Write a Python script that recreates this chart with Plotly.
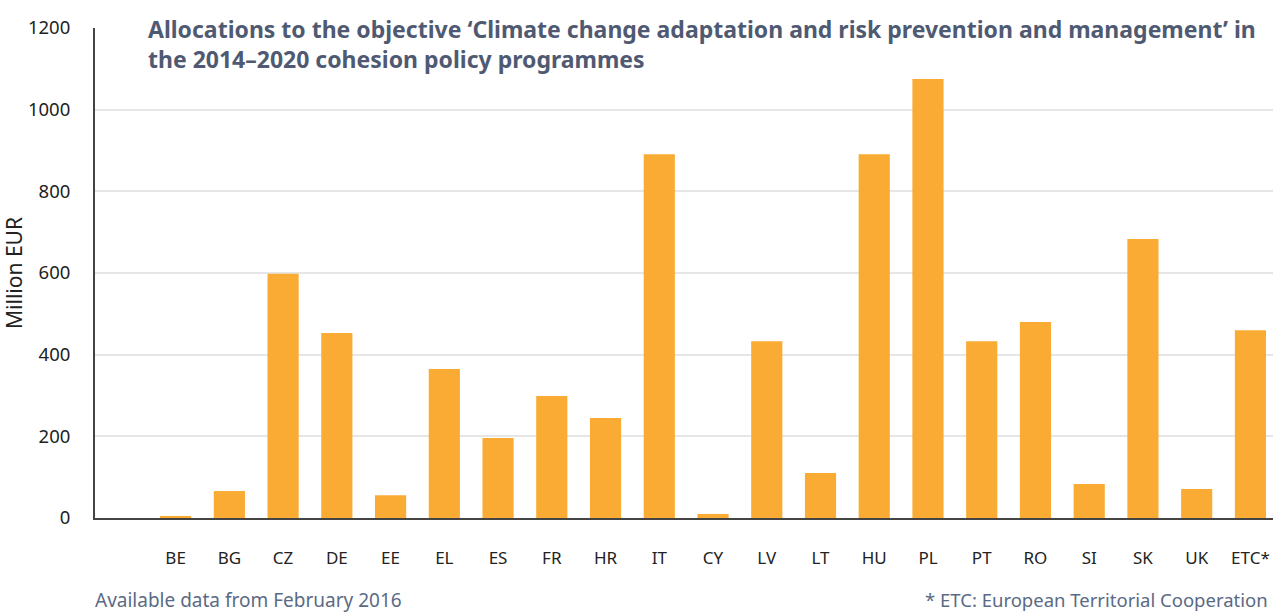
import plotly.graph_objects as go

countries = ["BE", "BG", "CZ", "DE", "EE", "EL", "ES", "FR", "HR", "IT", "CY",
             "LV", "LT", "HU", "PL", "PT", "RO", "SI", "SK", "UK", "ETC*"]
allocations = [5, 66, 598, 453, 56, 365, 196, 299, 245, 891, 10,
               433, 110, 891, 1075, 433, 480, 83, 683, 71, 460]
y_ticks = [0, 200, 400, 600, 800, 1000, 1200]

FONT = "Noto Sans"
TITLE_COLOR = "#4F5A72"

fig = go.Figure(go.Bar(
    x=countries, y=allocations,
    marker=dict(color="#FAAB33", line=dict(width=0)),
    width=0.58,
))

fig.update_layout(
    width=1273, height=613,
    margin=dict(l=95, r=0, t=28, b=95),
    paper_bgcolor="white", plot_bgcolor="white",
    showlegend=False,
    font=dict(family=FONT, size=17, color="#222222"),
    xaxis=dict(
        type="category", range=[-1.5, 20.42],
        showline=True, linecolor="#444444", linewidth=2,
        showgrid=False, ticks="", ticklabelstandoff=24,
        tickfont=dict(size=17, color="#222222"),
        fixedrange=True,
    ),
    yaxis=dict(
        range=[0, 1200], tickvals=y_ticks,
        showline=True, linecolor="#444444", linewidth=2,
        showgrid=True, gridcolor="#E6E6E6", gridwidth=2,
        zeroline=False, ticks="", ticklabelstandoff=19,
        tickfont=dict(size=18.5, color="#222222"),
        title=dict(text="Million EUR", font=dict(size=21, color="#222222"), standoff=12),
    ),
    annotations=[
        dict(text="<b>Allocations to the objective ‘Climate change adaptation and risk prevention and management’ in</b>"
                  "<br><b>the 2014–2020 cohesion policy programmes</b>",
             xref="paper", yref="paper", x=(146-95)/1178, y=1.0, yshift=17,
             xanchor="left", yanchor="top", align="left", showarrow=False,
             font=dict(family=FONT, size=23, color=TITLE_COLOR)),
        dict(text="Available data from February 2016", xref="paper", yref="paper",
             x=(93-95)/1178, y=0, yshift=-67, xanchor="left", yanchor="top",
             showarrow=False, font=dict(family=FONT, size=19, color="#5B6A85")),
        dict(text="* ETC: European Territorial Cooperation", xref="paper", yref="paper",
             x=(1270-95)/1178, y=0, yshift=-67, xanchor="right", yanchor="top",
             showarrow=False, font=dict(family=FONT, size=18.5, color="#5B6A85")),
    ],
)

fig.write_html("out.html")
